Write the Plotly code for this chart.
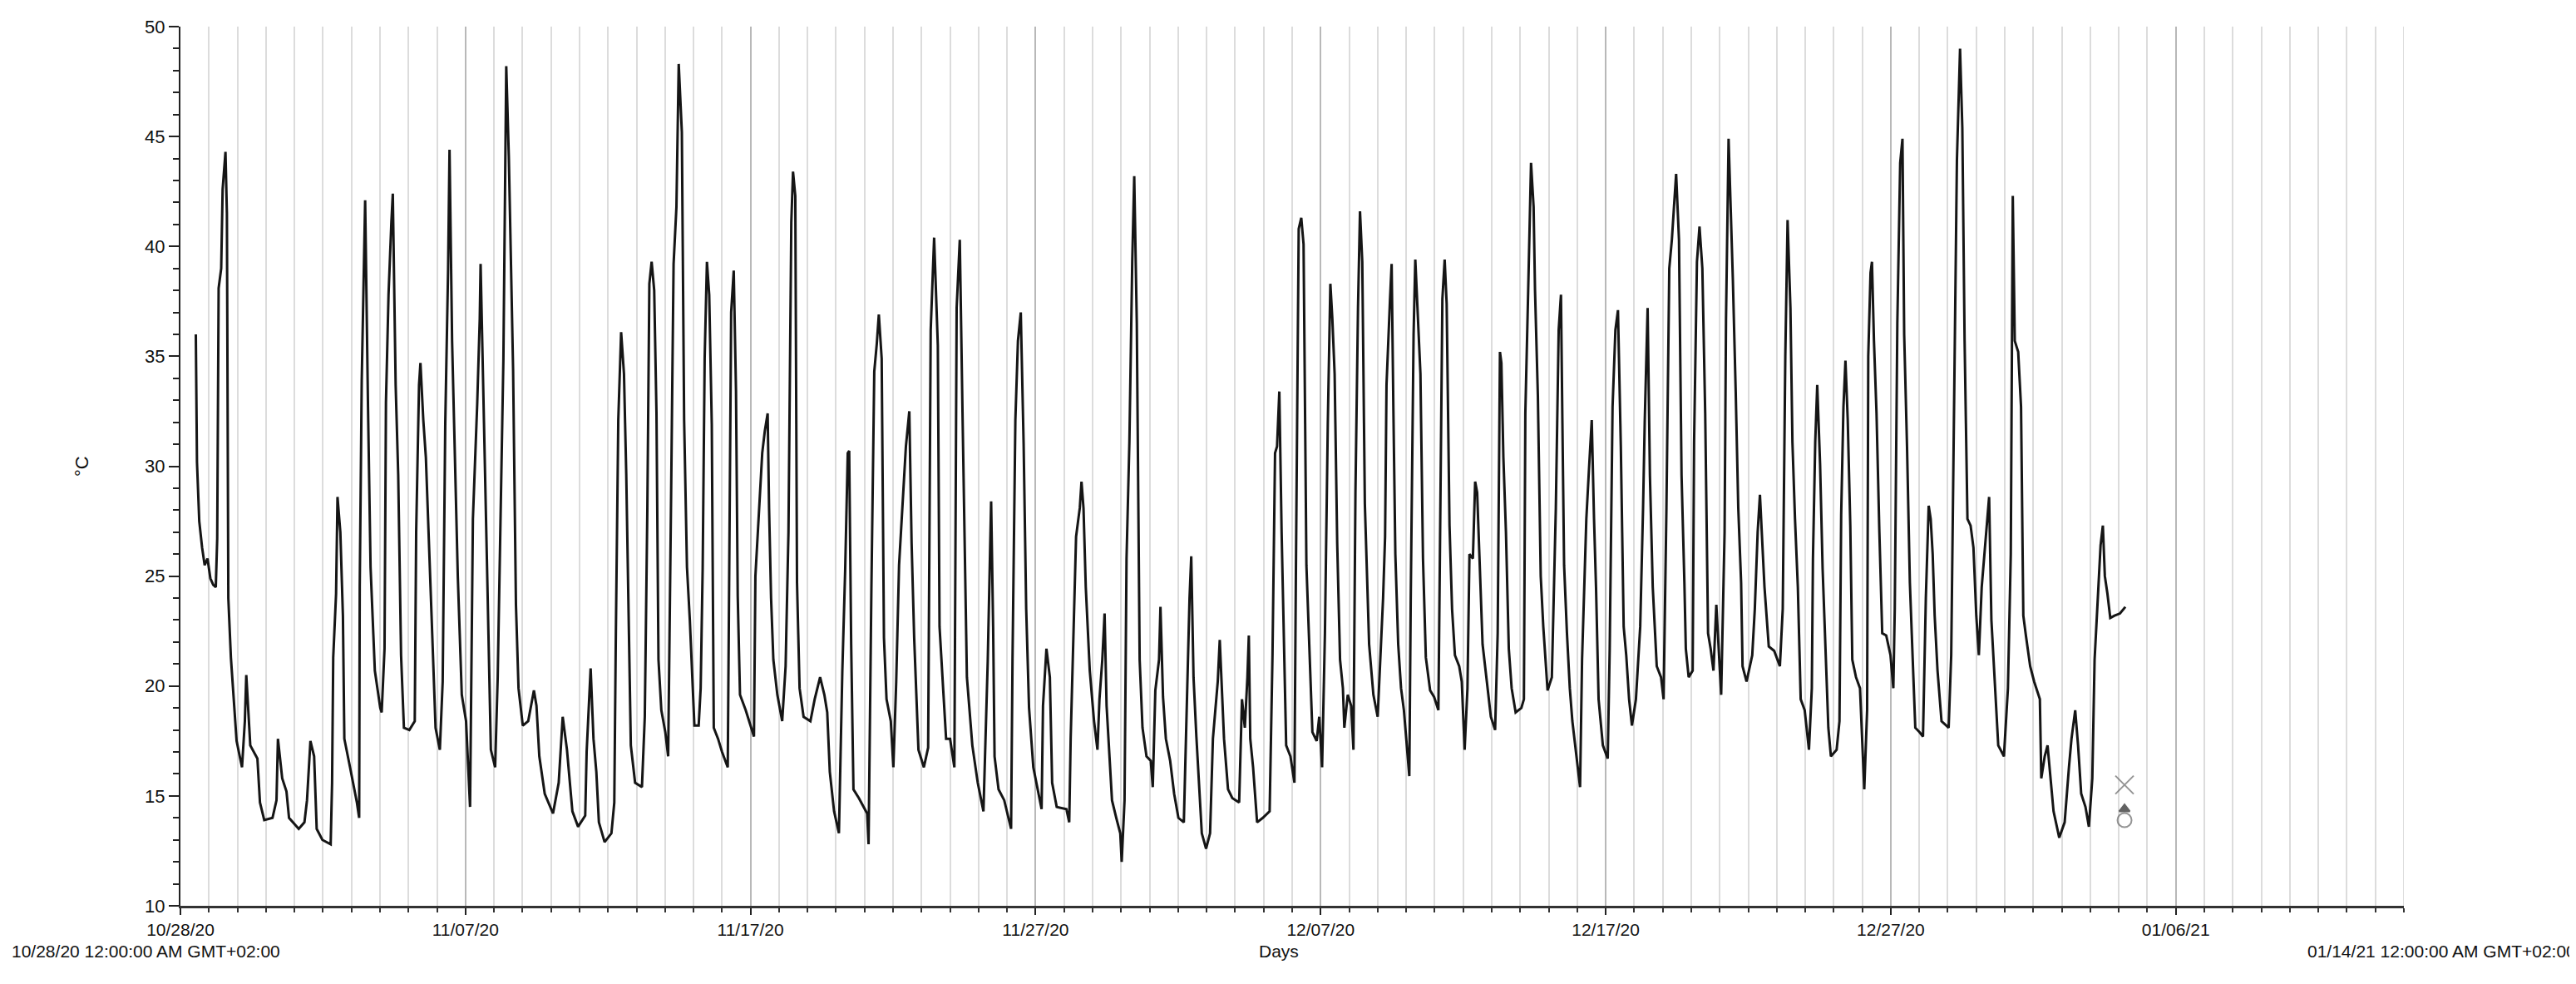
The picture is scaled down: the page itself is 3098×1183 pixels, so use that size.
import pandas as pd
import plotly.graph_objects as go

# ---- data (time in days since 10/28/20 00:00, temperature in °C)
T_DAYS = [
    0.54, 0.58, 0.66, 0.76, 0.85, 0.95, 1.05, 1.15, 1.24, 1.29, 1.34, 1.43, 1.48, 1.58, 1.63, 1.68, 1.77, 1.87, 1.97,
    2.16, 2.26, 2.31, 2.45, 2.70, 2.79, 2.94, 3.23, 3.37, 3.42, 3.57, 3.72, 3.81, 4.15, 4.35, 4.44, 4.56, 4.69, 4.78,
    4.98, 5.27, 5.32, 5.36, 5.46, 5.51, 5.61, 5.70, 5.75, 5.95, 6.19, 6.27, 6.29, 6.36, 6.48, 6.58, 6.67, 6.82, 7.01,
    7.06, 7.16, 7.21, 7.30, 7.40, 7.45, 7.55, 7.64, 7.74, 7.84, 8.03, 8.22, 8.27, 8.37, 8.42, 8.52, 8.61, 8.71, 8.81,
    8.95, 9.10, 9.20, 9.29, 9.39, 9.44, 9.53, 9.63, 9.73, 9.87, 10.02, 10.16, 10.26, 10.41, 10.50, 10.53, 10.65, 10.75,
    10.89, 11.04, 11.13, 11.23, 11.33, 11.43, 11.52, 11.67, 11.77, 11.86, 12.01, 12.20, 12.40, 12.49, 12.59, 12.78,
    13.07, 13.27, 13.41, 13.56, 13.75, 13.95, 14.20,
    14.25, 14.39, 14.49, 14.59, 14.68, 14.88, 15.12, 15.22, 15.27, 15.36, 15.46, 15.56, 15.64, 15.70, 15.80, 15.95,
    16.19, 16.29, 16.38, 16.45, 16.53, 16.62, 16.70, 16.77, 16.87, 17.01, 17.11, 17.21, 17.30, 17.40, 17.48, 17.59,
    17.67, 17.77, 17.87, 17.96, 18.03, 18.18, 18.25, 18.32, 18.39, 18.47, 18.55, 18.64, 18.71, 18.86, 19.00, 19.20,
    19.24, 19.32, 19.41, 19.49, 19.55, 19.63, 19.83, 20.12, 20.17, 20.29, 20.41, 20.50, 20.60, 20.65, 20.72, 20.80,
    20.94, 21.11, 21.23, 21.33, 21.43, 21.49, 21.57, 21.63, 21.72, 21.86, 22.10, 22.25, 22.44, 22.59, 22.69, 22.78,
    22.93, 23.10, 23.22, 23.32, 23.41, 23.46, 23.53, 23.61, 23.80, 24.09, 24.14, 24.24, 24.34, 24.43, 24.50, 24.60,
    24.68, 24.77, 24.92, 25.01, 25.11, 25.21, 25.33, 25.45, 25.57, 25.65, 25.74, 25.89, 26.08, 26.23, 26.32, 26.44,
    26.57, 26.63, 26.76, 26.86, 27.00, 27.15, 27.23, 27.34, 27.44, 27.59, 27.78, 27.97, 28.17,
    28.32, 28.44, 28.51, 28.56, 28.70, 28.90, 29.14, 29.19, 29.29, 29.38, 29.48, 29.58, 29.67, 29.77, 29.92, 30.21,
    30.26, 30.38, 30.50, 30.58, 30.74, 31.08, 31.18, 31.23, 31.32, 31.42, 31.55, 31.61, 31.68, 31.76, 31.90, 32.05,
    32.17, 32.24, 32.34, 32.42, 32.49, 32.58, 32.68, 32.83, 32.97, 33.02, 33.12, 33.19, 33.29, 33.39, 33.46, 33.55,
    33.65, 33.75, 33.89, 34.04, 34.11, 34.20, 34.33, 34.38, 34.47, 34.57, 34.72, 34.86, 35.01, 35.20, 35.30, 35.40,
    35.46, 35.54, 35.64, 35.74, 35.83, 35.98, 36.12, 36.22, 36.32, 36.39, 36.46, 36.53, 36.61, 36.75, 36.90, 37.14,
    37.24, 37.34, 37.43, 37.48, 37.53, 37.63, 37.77, 37.97, 38.21, 38.31, 38.40, 38.47, 38.55, 38.63, 38.69, 38.79,
    38.94, 39.08, 39.13, 39.23, 39.32, 39.40, 39.50, 39.62, 39.71, 39.86, 39.95, 40.05, 40.15, 40.25, 40.34, 40.41,
    40.49, 40.58, 40.68, 40.78, 40.83, 40.95, 41.07, 41.15, 41.22, 41.31, 41.38, 41.46, 41.55, 41.70, 41.85, 42.00,
    42.19, 42.26, 42.31, 42.43, 42.49, 42.55, 42.62, 42.72, 42.82, 42.92, 43.01, 43.11, 43.16, 43.26, 43.32, 43.40,
    43.50, 43.59, 43.69, 43.84, 43.98, 44.13, 44.18, 44.27, 44.35, 44.42, 44.52, 44.61, 44.71, 44.86, 44.95, 45.05,
    45.15, 45.22, 45.34, 45.42, 45.49, 45.58, 45.68, 45.83, 45.97, 46.12, 46.21, 46.29, 46.34, 46.41, 46.50, 46.60,
    46.70, 46.84, 47.04, 47.13, 47.18, 47.28, 47.38, 47.47, 47.52, 47.62, 47.72, 47.81, 47.91, 47.96, 48.11, 48.25,
    48.35, 48.43, 48.49, 48.54, 48.64, 48.74, 48.83, 48.98, 49.10, 49.17, 49.32, 49.41, 49.51, 49.59, 49.66, 49.75,
    49.90, 50.07, 50.14, 50.24, 50.34, 50.43, 50.53, 50.63, 50.72, 50.82, 50.92, 51.06, 51.21, 51.31, 51.37, 51.47,
    51.55, 51.65, 51.79, 51.94, 52.03, 52.13, 52.23, 52.32, 52.47, 52.57, 52.66, 52.76, 52.81, 52.91, 53.05, 53.10,
    53.20, 53.29, 53.39, 53.49, 53.59, 53.68, 53.78, 53.88, 54.05, 54.17, 54.22, 54.31, 54.38, 54.46, 54.56, 54.65,
    54.75, 54.80, 54.94, 55.14, 55.23, 55.33, 55.41, 55.48, 55.57, 55.72, 55.91, 56.11,
    56.21, 56.30, 56.38, 56.48, 56.55, 56.64, 56.74, 56.84, 56.98, 57.13, 57.23, 57.27, 57.35, 57.42, 57.52, 57.61,
    57.71, 57.81, 57.90, 58.10, 58.20, 58.26, 58.34, 58.41, 58.49, 58.58, 58.65, 58.78, 58.92, 59.07, 59.17, 59.21,
    59.29, 59.34, 59.41, 59.50, 59.60, 59.70, 59.84, 59.99, 60.09, 60.14, 60.23, 60.33, 60.41, 60.47, 60.57, 60.67,
    60.77, 60.86, 61.01, 61.13, 61.23, 61.33, 61.40, 61.47, 61.54, 61.64, 61.78, 62.03, 62.12, 62.22, 62.32, 62.43,
    62.51, 62.59, 62.69, 62.80, 62.90, 63.00, 63.09, 63.19, 63.34, 63.45, 63.53, 63.63, 63.77, 63.97, 64.11, 64.21,
    64.28, 64.35, 64.47, 64.57, 64.65, 64.74, 64.89, 65.03, 65.23, 65.28, 65.40, 65.50, 65.57, 65.71, 65.91, 66.10,
    66.25, 66.34, 66.47, 66.57, 66.68, 66.83, 66.95, 67.07, 67.15, 67.26, 67.36, 67.44, 67.51, 67.60, 67.70, 67.85,
    68.04, 68.23,
]
TEMP = [
    36.0, 30.2, 27.5, 26.3, 25.5, 25.8, 24.9, 24.6, 24.5, 26.7, 38.1, 39.0, 42.6, 44.3, 41.5, 24.0, 21.3, 19.3, 17.5,
    16.3, 18.4, 20.5, 17.3, 16.7, 14.7, 13.9, 14.0, 14.8, 17.6, 15.8, 15.2, 14.0, 13.5, 13.8, 14.8, 17.5, 16.8, 13.5,
    13.0, 12.8, 15.6, 21.3, 24.2, 28.6, 27.0, 23.2, 17.6, 16.3, 14.7, 14.0, 24.5, 33.9, 42.1, 32.7, 25.4, 20.7, 19.0,
    18.8, 21.7, 32.9, 37.8, 41.1, 42.4, 33.7, 29.6, 21.4, 18.1, 18.0, 18.4, 27.0, 33.7, 34.7, 32.1, 30.4, 26.5, 23.2,
    18.1, 17.1, 20.2, 31.9, 39.0, 44.4, 35.7, 30.1, 25.0, 19.6, 18.4, 14.5, 27.6, 32.8, 36.7, 39.2, 32.4, 25.8,
    17.1, 16.3, 20.4, 28.3, 34.9, 48.2, 44.1, 34.4, 23.7, 19.9, 18.2, 18.4, 19.8, 19.1, 16.8, 15.1,
    14.2, 15.6, 18.6, 17.1, 14.3, 13.6, 14.1,
    17.0, 20.8, 17.6, 16.1, 13.8, 12.9, 13.3, 14.7, 21.8, 32.1, 36.1, 34.2, 29.6, 25.5, 17.3, 15.6,
    15.4, 18.6, 28.1, 38.3, 39.3, 38.0, 32.4, 21.2, 18.9, 17.9, 16.8, 28.3, 39.2, 41.8, 48.3, 45.2,
    32.1, 25.4, 23.0, 20.3, 18.2, 18.2, 19.9, 25.3, 34.9, 39.3, 37.8, 31.9, 18.1, 17.6, 17.0, 16.3,
    22.2, 37.0, 38.9, 33.4, 24.1, 19.6, 18.9, 17.7, 25.0, 27.6, 30.6, 31.6, 32.4, 28.1, 24.0, 21.2,
    19.6, 18.4, 20.9, 27.0, 41.1, 43.4, 42.3, 24.7, 19.9, 18.6, 18.4, 19.4, 20.4, 19.6, 18.8, 16.1,
    14.3, 13.3, 20.7, 25.3, 30.6, 30.7, 21.9, 15.3, 14.9, 14.2, 12.8, 24.5, 34.3, 35.6, 36.9, 34.9,
    22.2, 19.4, 18.4, 16.3, 20.2, 25.5, 28.1, 30.9, 32.5, 26.5, 22.2, 17.1, 16.3, 17.2, 36.2, 40.4,
    35.5, 22.7, 19.8, 17.6, 17.6, 16.3, 37.2, 40.3, 32.1, 20.4, 17.3, 15.6, 14.3,
    21.1, 28.4, 22.7, 16.8, 15.3, 14.8, 13.5, 21.2, 32.1, 35.7, 37.0, 31.0, 23.5, 19.0, 16.3, 14.4,
    19.1, 21.7, 20.4, 15.6, 14.5, 14.4, 13.8, 17.6, 21.9, 26.8, 28.1, 29.3, 28.1, 24.5, 20.7, 18.4,
    17.1, 19.4, 21.2, 23.3, 19.1, 17.1, 14.8, 14.0, 13.3, 12.0, 14.8, 25.8, 31.1, 39.3, 43.2, 36.5,
    21.2, 18.1, 16.8, 16.6, 15.4, 19.8, 21.2, 23.6, 19.5, 17.6, 16.6, 15.1, 14.0, 13.8, 18.9, 24.0,
    25.9, 20.4, 17.7, 15.3, 13.3, 12.6, 13.3, 17.6, 19.1, 20.2, 22.1, 19.8, 17.6, 15.3, 14.9, 14.7,
    19.4, 18.1, 20.4, 22.3, 17.6, 16.3, 13.8, 14.0, 14.3, 21.4, 30.6, 30.9, 33.4, 27.0, 23.0, 17.3,
    16.8, 15.6, 25.0, 40.8, 41.3, 40.1, 25.5, 20.7, 17.9, 17.5, 18.6, 16.3, 22.4, 31.9, 38.3, 36.7,
    34.2, 26.5, 21.2, 19.9, 18.1, 19.6, 19.1, 17.1, 28.8, 37.2, 41.6, 39.3, 28.3, 21.9, 19.6, 18.6,
    24.0, 26.8, 33.7, 37.5, 39.2, 32.7, 26.0, 21.9, 19.9, 18.9, 17.3, 15.9, 24.0, 36.0, 39.4, 37.2,
    34.2, 25.8, 21.3, 19.8, 19.5, 18.9, 25.5, 37.6, 39.4, 37.4, 27.3, 23.5, 21.4, 20.9, 20.2, 17.1,
    19.9, 26.0, 25.8, 29.3, 28.8, 25.8, 21.9, 20.2, 18.6, 18.0, 22.4, 35.2, 34.7, 30.4, 27.0, 21.7,
    19.9, 18.8, 19.0, 19.4, 32.4, 38.0, 43.8, 41.8, 38.0, 33.2, 25.0, 22.7, 20.9, 19.8, 20.4, 28.1,
    36.2, 37.8, 30.9, 25.5, 22.4, 19.9, 18.4, 16.8, 15.4, 21.2, 27.6, 29.8, 32.1, 27.6, 24.5, 19.4,
    17.3, 16.7, 21.7, 32.7, 36.2, 37.1, 30.9, 22.7, 21.4, 19.4, 18.2, 19.4, 22.7, 28.1, 32.1, 37.2,
    29.6, 24.5, 20.9, 20.4, 19.4, 28.1, 39.0, 40.3, 43.3, 40.3, 29.6, 24.7, 21.7, 20.4, 20.7, 31.1,
    39.3, 40.9, 39.0, 32.4, 22.4, 21.7, 20.7, 23.7, 19.6, 27.0, 36.7, 44.9, 42.1, 38.5, 33.4, 28.1,
    24.7, 20.9, 20.2, 21.4, 23.5, 27.0, 28.7, 27.0, 24.5, 21.8, 21.6, 20.9,
    23.5, 35.0, 41.2, 37.2, 31.1, 27.6, 24.5, 19.4, 18.9, 17.1, 19.9, 25.8, 31.1, 33.7, 30.1, 25.3,
    21.4, 18.1, 16.8, 17.1, 18.4, 27.8, 32.7, 34.8, 32.1, 27.3, 21.2, 20.4, 19.9, 15.3, 18.9, 35.0,
    38.8, 39.3, 35.7, 32.4, 27.0, 22.4, 22.3, 21.4, 19.9, 23.5, 36.5, 43.8, 44.9, 36.0, 30.9, 24.7,
    21.2, 18.1, 17.9, 17.7, 24.0, 28.2, 27.6, 26.0, 23.2, 20.7, 18.4, 18.1, 21.4, 32.1, 43.9, 49.0,
    45.4, 35.7, 27.6, 27.3, 26.3, 23.2, 21.4, 24.5, 26.8, 28.6, 23.0, 20.7, 17.3, 16.8, 19.9, 26.0,
    42.3, 35.7, 35.2, 32.7, 23.2, 22.3, 20.9, 20.2, 19.4, 15.8, 16.8, 17.3, 16.3, 14.3, 13.1, 13.8,
    16.3, 17.6, 18.9, 17.3, 15.1, 14.5, 13.6, 15.8, 21.2, 23.7, 26.4, 27.3, 25.0, 24.2, 23.1, 23.2,
    23.3, 23.6,
]

# summary markers drawn at the end of the record
MARK_T = [68.2, 68.2, 68.2]
MARK_V = [15.5, 14.4, 13.9]
MARK_SYMBOLS = ["x-thin-open", "triangle-up", "circle-open"]

START = "2020-10-28"
END = "2021-01-14"
Y_RANGE = [10, 50]
Y_TITLE = "°C"
X_TITLE = "Days"
LEFT_NOTE = "10/28/20 12:00:00 AM GMT+02:00"
RIGHT_NOTE = "01/14/21 12:00:00 AM GMT+02:00"

base = pd.Timestamp(START)
x = base + pd.to_timedelta(T_DAYS, unit="D")
mx = base + pd.to_timedelta(MARK_T, unit="D")

FONT = "Liberation Sans Narrow, Liberation Sans, Arial, sans-serif"
FS = 21
DAY_MS = 86400000

fig = go.Figure()
fig.add_trace(go.Scatter(x=x, y=TEMP, mode="lines",
                         line=dict(color="#151515", width=3), showlegend=False,
                         hoverinfo="skip"))
fig.add_trace(go.Scatter(x=mx, y=MARK_V, mode="markers", showlegend=False,
                         marker=dict(symbol=MARK_SYMBOLS, size=[22, 11, 17],
                                     color=["#666", "#222", "#666"],
                                     line=dict(width=2, color=["#666", "#222", "#666"]))))

L, R, T, B = 209, 215, 18, 102
fig.update_layout(
    width=3098, height=1183,
    margin=dict(l=L, r=R, t=T, b=B),
    paper_bgcolor="white", plot_bgcolor="white",
    font=dict(family=FONT, size=FS, color="#111"),
)
fig.update_xaxes(
    type="date", range=[START, END],
    tick0=START, dtick=10 * DAY_MS, tickformat="%m/%d/%y",
    ticks="outside", ticklen=8, tickwidth=2, tickcolor="#222",
    showgrid=True, gridcolor="#b8b8b8", gridwidth=2,
    showline=True, linecolor="#333", linewidth=3,
    minor=dict(tick0=START, dtick=DAY_MS, ticks="outside", ticklen=5, tickwidth=2,
               tickcolor="#333", showgrid=True, gridcolor="#dcdcdc", gridwidth=2),
    tickfont=dict(size=FS), zeroline=False,
)
fig.update_yaxes(
    range=Y_RANGE, dtick=5, tick0=10,
    ticks="outside", ticklen=12, tickwidth=2, tickcolor="#222",
    showgrid=False, zeroline=False,
    showline=True, linecolor="#222", linewidth=2,
    minor=dict(dtick=1, ticks="outside", ticklen=7, tickwidth=2, tickcolor="#222", showgrid=False),
    tickfont=dict(size=FS + 1),
)

# last daily gridline at the right edge of the range
fig.add_shape(type="line", xref="x", yref="paper", x0=END, x1=END, y0=0, y1=1,
              line=dict(color="#dcdcdc", width=2), layer="below")

pw = 3098 - L - R
ph = 1183 - T - B
bottom_row_y = -(1136 - (1183 - B)) / ph

fig.add_annotation(text=Y_TITLE, xref="paper", yref="paper", x=-(L - 76) / pw, y=0.5,
                   textangle=-90, showarrow=False, font=dict(size=FS + 1))
fig.add_annotation(text=X_TITLE, xref="paper", yref="paper", x=0.494, y=bottom_row_y,
                   yanchor="middle", showarrow=False, font=dict(size=FS))
fig.add_annotation(text=LEFT_NOTE, xref="paper", yref="paper", x=-(L - 4) / pw, y=bottom_row_y,
                   xanchor="left", yanchor="middle", showarrow=False, font=dict(size=FS))
fig.add_annotation(text=RIGHT_NOTE, xref="paper", yref="paper", x=(3092 - L) / pw, y=bottom_row_y,
                   xanchor="right", yanchor="middle", showarrow=False, font=dict(size=FS))

fig.write_html("out.html")
